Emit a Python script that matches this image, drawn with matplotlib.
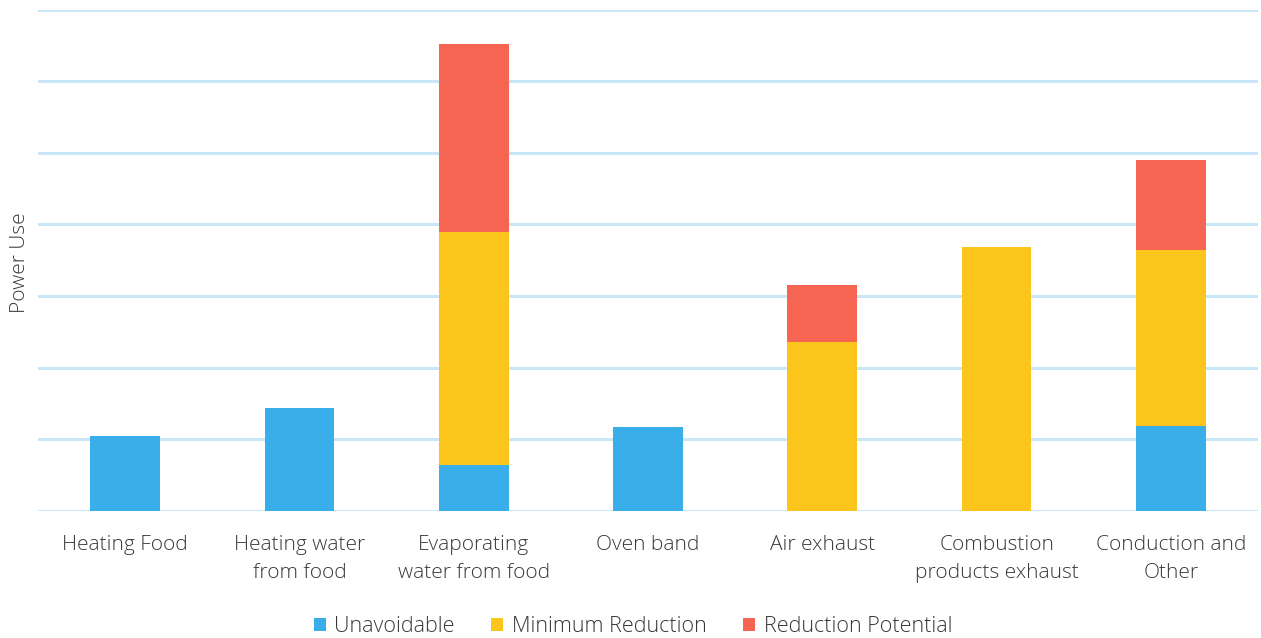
import matplotlib
matplotlib.use("Agg")
import matplotlib.pyplot as plt
import numpy as np

categories = ["Heating Food", "Heating water\nfrom food", "Evaporating\nwater from food",
              "Oven band", "Air exhaust", "Combustion\nproducts exhaust", "Conduction and\nOther"]
unavoidable = [1.05, 1.44, 0.64, 1.17, 0.0, 0.0, 1.19]
minimum_reduction = [0.0, 0.0, 3.26, 0.0, 2.36, 3.69, 2.46]
reduction_potential = [0.0, 0.0, 2.62, 0.0, 0.79, 0.0, 1.25]
series_names = ["Unavoidable", "Minimum Reduction", "Reduction Potential"]
colors = ["#3aaee8", "#fcc51c", "#f56552"]

plt.rcParams['font.family'] = ['Open Sans', 'DejaVu Sans']
plt.rcParams['font.weight'] = 'light'
fig = plt.figure(figsize=(12.61, 6.38), dpi=100)
ax = fig.add_axes([38/1261, (638-511)/638, (1258-38)/1261, (511-9.5)/638])

x = np.arange(len(categories))
w = 0.40
u = np.array(unavoidable); m = np.array(minimum_reduction); r = np.array(reduction_potential)
ax.bar(x, u, w, color=colors[0], label=series_names[0], zorder=3)
ax.bar(x, m, w, bottom=u, color=colors[1], label=series_names[1], zorder=3)
ax.bar(x, r, w, bottom=u + m, color=colors[2], label=series_names[2], zorder=3)

ax.set_xlim(-0.5, len(categories) - 0.5)
ax.set_ylim(0, 7)
ax.set_yticks(np.arange(0, 8, 1))
ax.yaxis.grid(True, color="#c8e6f7", linewidth=2.2, zorder=0)
ax.tick_params(axis="y", left=False, labelleft=False)
ax.tick_params(axis="x", bottom=False, pad=13.5, labelsize=15, labelcolor="#383838")
ax.set_xticks(x)
ax.set_xticklabels(categories, linespacing=1.58)
for s in ax.spines.values():
    s.set_visible(False)

fig.text(20/1261, 1 - 263/638, "Power Use", rotation=90, ha="center", va="center",
         fontsize=15, color="#383838")

leg = fig.legend(loc="center", bbox_to_anchor=(633/1261, 1 - 627/638), ncol=3, frameon=False,
                 fontsize=15.5, handlelength=0.55, handleheight=0.55, handletextpad=0.4,
                 columnspacing=1.7)
for t in leg.get_texts():
    t.set_color("#383838")

fig.savefig("out.png", dpi=100)
